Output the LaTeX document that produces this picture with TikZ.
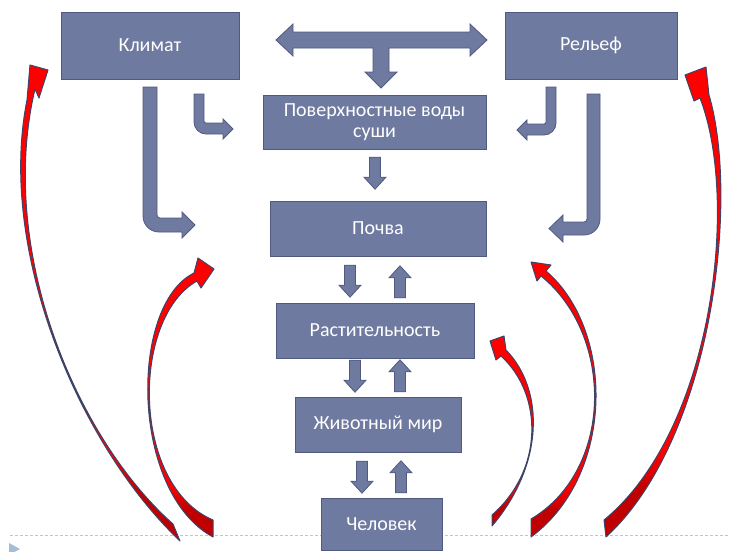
\documentclass[tikz,border=0pt]{standalone}
\usepackage{fontspec}
\setmainfont{Carlito}
\usepackage{tikz}
\usetikzlibrary{calc}

\definecolor{boxfill}{RGB}{111,122,160}
\definecolor{boxline}{RGB}{80,90,128}
\definecolor{redline}{RGB}{60,68,105}
\definecolor{darkred}{RGB}{192,0,0}
\definecolor{dashblue}{RGB}{180,199,222}
\definecolor{marker}{RGB}{165,190,214}

\pgfdeclareverticalshading{redtail}{100bp}{color(0bp)=(darkred); color(30bp)=(darkred); color(34bp)=(red); color(100bp)=(red)}

\tikzset{
  box/.style={draw=boxline, fill=boxfill, text=white, minimum height=55, inner sep=0pt, align=center},
  blockarr/.style={draw=boxline, fill=boxfill, line width=0.8pt},
  redarr/.style={draw=redline, line width=1pt, shade, shading=redtail, line join=round},
  dnarr/.pic={\draw[blockarr, pic actions] (-5.5,0) -- (5.5,0) -- (5.5,20) -- (11,20) -- (0,32) -- (-11,20) -- (-5.5,20) -- cycle;},
  uparr/.pic={\draw[blockarr, pic actions] (-5.5,0) -- (5.5,0) -- (5.5,-20) -- (11,-20) -- (0,-32) -- (-11,-20) -- (-5.5,-20) -- cycle;}
}

\begin{document}
\begin{tikzpicture}[x=1pt, y=-1pt, font=\fontsize{20}{21}\selectfont]
	\clip (0,0) rectangle (729,552);
	\draw[dashblue, dash pattern=on 3pt off 2pt, line width=1pt] (10,535) -- (729,535);
	\fill[marker] (9,543) -- (20,549) -- (9,555) -- cycle;

	\node[box, minimum width=178, minimum height=67] (klimat) at (150,45.5) {Климат};
	\node[box, minimum width=172, minimum height=67] (relief) at (591,45.5) {Рельеф};
	\node[box, minimum width=223, minimum height=54] (vody) at (374.5,122) {Поверхностные воды\\суши};
	\node[box, minimum width=216] (pochva) at (378,228.5) {Почва};
	\node[box, minimum width=198] (rast) at (375,330.5) {Растительность};
	\node[box, minimum width=166] (zhiv) at (378,424.5) {Животный мир};
	\node[box, minimum width=121, minimum height=52] (chel) at (381.5,524) {Человек};

	\draw[blockarr] (276,40) -- (293,24) -- (293,32) -- (470,32) -- (470,24) -- (487,40) -- (470,56) -- (470,48) -- (389,48) -- (389,72) -- (397,72) -- (381,88) -- (365,72) -- (373,72) -- (373,48) -- (293,48) -- (293,56) -- cycle;

	\draw[blockarr] (143,87) -- (157,87) -- (157,215) arc[start angle=180, end angle=90, radius=3] -- (182,218) -- (182,212) -- (195,225) -- (182,238) -- (182,232) -- (159,232) arc[start angle=90, end angle=180, radius=16] -- cycle;
	\draw[blockarr] (194,94) -- (204,94) -- (204,121) arc[start angle=180, end angle=90, radius=2] -- (223,123) -- (223,119) -- (233,129) -- (223,139) -- (223,134) -- (206,134) arc[start angle=90, end angle=180, radius=12] -- cycle;
	\draw[blockarr] (546,87) -- (556,87) -- (556,123) arc[start angle=0, end angle=90, radius=12] -- (527,135) -- (527,140) -- (517,130) -- (527,120) -- (527,124) -- (544,124) arc[start angle=90, end angle=0, radius=2] -- cycle;
	\draw[blockarr] (587,94) -- (600,94) -- (600,219) arc[start angle=0, end angle=90, radius=16] -- (563,235) -- (563,242) -- (549,228.5) -- (563,215) -- (563,222) -- (584,222) arc[start angle=90, end angle=0, radius=3] -- cycle;

	\pic at ($(vody.south)+(0.5,8)$) {dnarr};
	\pic at ($(pochva.south)+(-28,9)$) {dnarr};
	\pic at ($(rast.north)+(25,-5)$) {uparr};
	\pic at ($(rast.south)+(-20,2)$) {dnarr};
	\pic at ($(zhiv.north)+(22,-5)$) {uparr};
	\pic at ($(zhiv.south)+(-16,9)$) {dnarr};
	\pic[fill=red, draw=redline] at ($(chel.north)+(19.5,-5)$) {uparr};

	\draw[redarr] (180,541) .. controls (78,444) and (-3,250) .. (27,100) -- (30,65) -- (48,70) -- (39,98) -- (35,89) .. controls (-3,250) and (76,438) .. (173,524) -- cycle;
	\draw[redarr] (213,537) .. controls (130,492) and (129,305) .. (194,273) -- (198,258) -- (214,269) -- (201,288) -- (197,281) .. controls (131,318) and (131,485) .. (213,520) -- cycle;
	\draw[redarr] (492,526) .. controls (544,465) and (545,390) .. (506,350) -- (504,336) -- (490,341) -- (496,360) -- (501,356) .. controls (543.5,395) and (543.5,470) .. (492,515) -- cycle;
	\draw[redarr] (531,537) .. controls (615,475) and (615,330) .. (546,271) -- (551,265) -- (531,262) -- (537,281) -- (541,276) .. controls (614,335) and (614,470) .. (531,519) -- cycle;
	\draw[redarr] (606,537) .. controls (712,440) and (740,200) .. (709,95) -- (706,67) -- (685,75) -- (694,101) -- (700,98) .. controls (739.5,200) and (713.5,430) .. (604,520) -- cycle;
\end{tikzpicture}
\end{document}
